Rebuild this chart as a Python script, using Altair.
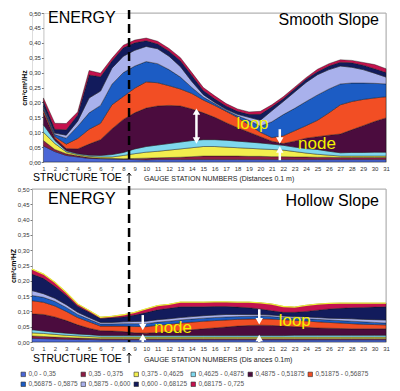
import altair as alt
import pandas as pd

series_labels = ["0,0 - 0,35", "0,35 - 0,375", "0,375 - 0,4625", "0,4625 - 0,4875",
                 "0,4875 - 0,51875", "0,51875 - 0,56875", "0,56875 - 0,5875",
                 "0,5875 - 0,600", "0,600 - 0,68125", "0,68175 - 0,725"]
series_colors = ["#4a66d6", "#8c1c44", "#f2ee4e", "#7fd8ee", "#4b0c3e",
                 "#f24e24", "#1c5cc4", "#a9b1ec", "#121b5c", "#c4124e"]

y_ticks = [0.0, 0.05, 0.10, 0.15, 0.20, 0.25, 0.30, 0.35, 0.40, 0.45, 0.50]

# ---- Smooth slope: upper edge of each band (stations 1..31) ----
smooth_stations = list(range(1, 32))
smooth_b1 = [.054, .035, .022, .017, .012, .011, .010, .009, .008, .007, .008, .008, .008, .008, .008, .008,
             .008, .008, .008, .008, .008, .008, .008, .008, .008, .008, .008, .008, .008, .008, .008]
smooth_b2 = [.072, .042, .028, .021, .015, .013, .012, .011, .012, .013, .014, .015, .016, .018, .020, .020,
             .020, .020, .019, .019, .018, .018, .017, .017, .016, .016, .015, .015, .015, .015, .015]
smooth_b3 = [.100, .062, .034, .025, .019, .017, .017, .022, .028, .033, .036, .040, .044, .048, .052, .052,
             .050, .048, .046, .044, .042, .040, .035, .030, .026, .023, .020, .020, .020, .020, .020]
smooth_b4 = [.125, .072, .038, .028, .023, .022, .025, .032, .044, .052, .057, .062, .067, .072, .075, .075,
             .073, .070, .067, .064, .060, .056, .050, .045, .042, .036, .031, .032, .032, .033, .033]
smooth_b5 = [.165, .080, .045, .044, .060, .075, .111, .143, .165, .181, .188, .190, .188, .178, .165, .150,
             .132, .115, .100, .085, .070, .062, .070, .080, .085, .090, .094, .108, .122, .136, .148]
smooth_b6 = [.175, .085, .060, .079, .110, .130, .192, .220, .248, .269, .266, .256, .245, .230, .208, .190,
             .170, .150, .125, .100, .082, .088, .105, .122, .140, .165, .192, .203, .210, .215, .219]
smooth_b7 = [.183, .092, .080, .120, .165, .190, .261, .300, .322, .337, .330, .310, .285, .250, .218, .196,
             .174, .155, .140, .120, .135, .159, .180, .203, .225, .245, .262, .265, .265, .264, .262]
smooth_b8 = [.188, .097, .090, .137, .215, .238, .315, .355, .375, .388, .380, .355, .320, .270, .226, .200,
             .177, .160, .150, .140, .172, .203, .235, .267, .293, .310, .322, .318, .310, .298, .285]
smooth_b9 = [.205, .110, .108, .158, .292, .286, .339, .383, .400, .407, .396, .372, .340, .290, .240, .212,
             .188, .170, .160, .160, .185, .212, .245, .278, .303, .322, .335, .333, .325, .313, .300]
smooth_b10 = [.215, .130, .129, .168, .307, .298, .348, .392, .409, .416, .405, .381, .350, .300, .250, .222,
              .196, .178, .168, .170, .192, .219, .251, .283, .311, .330, .343, .341, .334, .327, .313]

# ---- Hollow slope: upper edge of each band (stations 0..31) ----
hollow_stations = list(range(0, 32))
hollow_b1 = [.012, .011, .010, .009, .008, .008, .007, .007, .007, .007, .007, .007, .007, .007, .007, .007,
             .007, .007, .007, .007, .007, .007, .007, .007, .007, .007, .007, .007, .007, .007, .007, .007]
hollow_b2 = [.020, .018, .016, .015, .013, .012, .011, .011, .011, .011, .011, .011, .011, .011, .011, .011,
             .011, .011, .011, .011, .011, .011, .011, .011, .011, .011, .011, .011, .011, .011, .011, .011]
hollow_b3 = [.030, .028, .025, .022, .020, .018, .016, .016, .016, .016, .016, .016, .016, .016, .016, .016,
             .016, .016, .016, .016, .016, .016, .016, .016, .016, .016, .016, .016, .016, .016, .016, .016]
hollow_b4 = [.040, .036, .032, .029, .026, .024, .021, .021, .021, .021, .021, .021, .021, .021, .021, .021,
             .021, .021, .021, .021, .021, .021, .021, .022, .022, .022, .022, .022, .022, .022, .022, .022]
hollow_b5 = [.092, .090, .082, .070, .056, .045, .037, .036, .034, .030, .029, .031, .034, .037, .040, .043,
             .046, .049, .052, .054, .055, .054, .052, .050, .048, .046, .045, .044, .043, .043, .043, .043]
hollow_b6 = [.135, .130, .118, .100, .080, .066, .052, .052, .052, .051, .050, .055, .058, .062, .065, .068,
             .070, .072, .074, .075, .076, .075, .073, .071, .069, .066, .064, .062, .060, .058, .057, .056]
hollow_b7 = [.152, .146, .133, .113, .090, .074, .059, .059, .060, .060, .060, .065, .068, .072, .075, .078,
             .080, .082, .083, .084, .085, .083, .080, .078, .076, .074, .072, .070, .068, .066, .064, .062]
hollow_b8 = [.168, .158, .143, .122, .097, .080, .064, .064, .066, .067, .068, .073, .076, .080, .083, .086,
             .088, .090, .090, .090, .090, .088, .085, .083, .082, .080, .078, .077, .076, .074, .073, .072]
hollow_b9 = [.222, .208, .182, .152, .117, .097, .077, .079, .082, .088, .096, .105, .110, .115, .115, .115,
             .116, .116, .114, .112, .108, .102, .097, .097, .100, .104, .108, .110, .112, .113, .114, .115]
hollow_b10 = [.238, .222, .195, .162, .124, .103, .081, .084, .089, .097, .108, .119, .123, .130, .130, .130,
              .131, .131, .130, .130, .128, .124, .116, .114, .120, .124, .126, .127, .127, .127, .127, .127]

smooth_uppers = [smooth_b1, smooth_b2, smooth_b3, smooth_b4, smooth_b5,
                 smooth_b6, smooth_b7, smooth_b8, smooth_b9, smooth_b10]
hollow_uppers = [hollow_b1, hollow_b2, hollow_b3, hollow_b4, hollow_b5,
                 hollow_b6, hollow_b7, hollow_b8, hollow_b9, hollow_b10]

# annotations (data coordinates: station, energy)
toe_station = 8.5
smooth_shafts = {"station": [14.4, 21.7, 21.7], "lo": [0.072, 0.072, 0.006], "hi": [0.169, 0.110, 0.042]}
smooth_heads_up = {"station": [14.4, 21.7], "hi": [0.169, 0.042]}
smooth_heads_down = {"station": [14.4, 21.7], "hi": [0.072, 0.072]}
smooth_words = {"station": [17.9, 23.3], "hi": [0.127, 0.062], "t": ["loop", "node"]}
smooth_frame_from = 8.5

hollow_shafts = {"station": [9.7, 9.7, 19.9, 19.9], "lo": [0.049, 0.0, 0.068, 0.0], "hi": [0.088, 0.016, 0.107, 0.013]}
hollow_heads_up = {"station": [9.7, 19.9], "hi": [0.016, 0.013]}
hollow_heads_down = {"station": [9.7, 19.9], "hi": [0.049, 0.068]}
hollow_words = {"station": [10.7, 21.6], "hi": [0.045, 0.068], "t": ["node", "loop"]}
hollow_frame_from = 0

W = 354
UNIT = W / 31.0
FONT = "Liberation Sans"

XS = alt.Scale(domain=[0, 31], nice=False, zero=False)
YS = alt.Scale(domain=[0, 0.5], nice=False, zero=True)


def band_frame(stations, uppers):
    rows = []
    for k, (lab, up) in enumerate(zip(series_labels, uppers)):
        low = uppers[k - 1] if k > 0 else [0.0] * len(stations)
        for s, lo, hi in zip(stations, low, up):
            rows.append({"station": s, "series": lab, "lo": lo, "hi": hi})
    return pd.DataFrame(rows)


def panel(stations, uppers, h, yoffset, ytitle, title_text, title_y, energy_y,
          shafts, heads_up, heads_down, words, gauge_text, below, frame_from, top_line):
    df = band_frame(stations, uppers)
    xaxis = alt.Axis(values=stations, labelFontSize=6, labelColor="#333", tickSize=0,
                     domain=False, grid=False, labelPadding=3, title=None, labelOverlap=False,
                     labelSeparation=0, format="d", labelFlush=False, labelFont=FONT)
    yaxis = alt.Axis(values=y_ticks, labelExpr="replace(format(datum.value, '.2f'), '.', ',')",
                     labelFontSize=6, labelColor="#333", tickSize=2, tickColor="#777",
                     labelPadding=1, grid=False, title=ytitle, titleFontSize=7, labelOverlap=False,
                     labelSeparation=0, titleFontWeight="bold", titlePadding=1, offset=yoffset,
                     domainColor="#999", domainWidth=0.6, labelFont=FONT, titleFont=FONT)

    def px(field="station"):
        return alt.X(f"{field}:Q", scale=XS, axis=xaxis)

    def py(field="hi"):
        return alt.Y(f"{field}:Q", scale=YS, axis=yaxis)

    legend = alt.Legend(orient="none", legendX=-12, legendY=358, direction="horizontal", columns=6,
                        symbolType="square", symbolSize=20, symbolStrokeColor="#333",
                        symbolStrokeWidth=0.6, labelFontSize=6.5, labelColor="#555", labelFont=FONT,
                        title=None, columnPadding=1, rowPadding=2, labelOffset=2, padding=0,
                        gridAlign="each")
    frame_top = alt.Chart(pd.DataFrame({"station": [frame_from], "end": [31]})).mark_rule(
        color="#b0b0b0", strokeWidth=1).encode(x=px(), x2="end:Q", y=alt.value(0))
    frame_right = alt.Chart(pd.DataFrame({"station": [31]})).mark_rule(
        color="#b0b0b0", strokeWidth=1).encode(x=px(), y=alt.value(0), y2=alt.value(h))
    area = alt.Chart(df).mark_area(stroke="#111", strokeWidth=0.4).encode(
        x=px(), y=py(), y2="lo:Q",
        color=alt.Color("series:N", scale=alt.Scale(domain=series_labels, range=series_colors),
                        legend=legend, sort=series_labels),
        detail="series:N",
    )
    layers = [frame_top, frame_right, area]
    if top_line:
        outline = alt.Chart(pd.DataFrame({"station": stations, "hi": uppers[-1]})).mark_line(
            color=top_line, strokeWidth=1.3).encode(x=px(), y=py())
        layers.append(outline)
    toe = alt.Chart(pd.DataFrame({"station": [toe_station]})).mark_rule(
        color="black", strokeWidth=2.5, strokeDash=[9, 5]).encode(
        x=px(), y=alt.value(-3), y2=alt.value(h))
    shaft = alt.Chart(pd.DataFrame(shafts)).mark_rule(color="white", strokeWidth=2.5).encode(
        x=px(), y=py(), y2="lo:Q")
    up = alt.Chart(pd.DataFrame(heads_up)).mark_point(
        shape="triangle-up", filled=True, color="white", opacity=1, size=55).encode(
        x=px(), y=py())
    down = alt.Chart(pd.DataFrame(heads_down)).mark_point(
        shape="triangle-down", filled=True, color="white", opacity=1, size=55).encode(
        x=px(), y=py())
    word = alt.Chart(pd.DataFrame(words)).mark_text(
        color="#f2f200", fontSize=17, font=FONT, align="left", baseline="middle").encode(
        x=px(), y=py(), text="t:N")
    energy = alt.Chart(pd.DataFrame({"t": ["ENERGY"]})).mark_text(
        fontSize=16, font=FONT, align="left", baseline="middle", color="black").encode(
        x=alt.value(16), y=alt.value(energy_y), text="t:N")
    ttl = alt.Chart(pd.DataFrame({"t": [title_text]})).mark_text(
        fontSize=16, font=FONT, align="right", baseline="middle", color="black").encode(
        x=alt.value(347), y=alt.value(title_y), text="t:N")
    toe_txt = alt.Chart(pd.DataFrame({"t": ["STRUCTURE TOE"]})).mark_text(
        fontSize=10.5, font=FONT, align="left", baseline="middle", color="black").encode(
        x=alt.value(1), y=alt.value(below[0]), text="t:N")
    arrow_stem = alt.Chart(pd.DataFrame({"station": [toe_station]})).mark_rule(
        color="black", strokeWidth=1).encode(x=px(), y=alt.value(below[1]), y2=alt.value(below[1] + 10))
    arrow_head = alt.Chart(pd.DataFrame({"station": [toe_station]})).mark_point(
        shape="M-0.6,0.8L0,0L0.6,0.8", filled=False, color="black", strokeWidth=1, opacity=1,
        size=45).encode(x=px(), y=alt.value(below[1]))
    gauge = alt.Chart(pd.DataFrame({"t": [gauge_text]})).mark_text(
        fontSize=7, font=FONT, align="left", baseline="middle", color="#222").encode(
        x=alt.value(112), y=alt.value(below[2]), text="t:N")
    layers += [shaft, up, down, word, toe, energy, ttl, toe_txt, arrow_stem, arrow_head, gauge]
    return alt.layer(*layers).properties(width=W, height=h)


top = panel(smooth_stations, smooth_uppers, 149, -UNIT, "cm²cm²/Hz", "Smooth Slope", 7, 5,
            smooth_shafts, smooth_heads_up, smooth_heads_down, smooth_words,
            "GAUGE STATION NUMBERS (Distances 0.1 m)", (165, 160, 166), smooth_frame_from, None)
bottom = panel(hollow_stations, hollow_uppers, 153, 0, "cm²cm²HZ", "Hollow Slope", 12, 10,
               hollow_shafts, hollow_heads_up, hollow_heads_down, hollow_words,
               "GAUGE STATION NUMBERS (Dis ances 0.1m)", (170, 164, 171), hollow_frame_from, "#ecec3a")

chart = alt.vconcat(top, bottom, spacing=27, bounds="flush").properties(
    padding=0, autosize=alt.AutoSizeParams(type="pad")).configure_view(
    stroke=None).configure_axis(labelOverlap=False, labelSeparation=0).configure(font=FONT)

chart.save("out.html", embed_options={"renderer": "svg", "actions": False})
